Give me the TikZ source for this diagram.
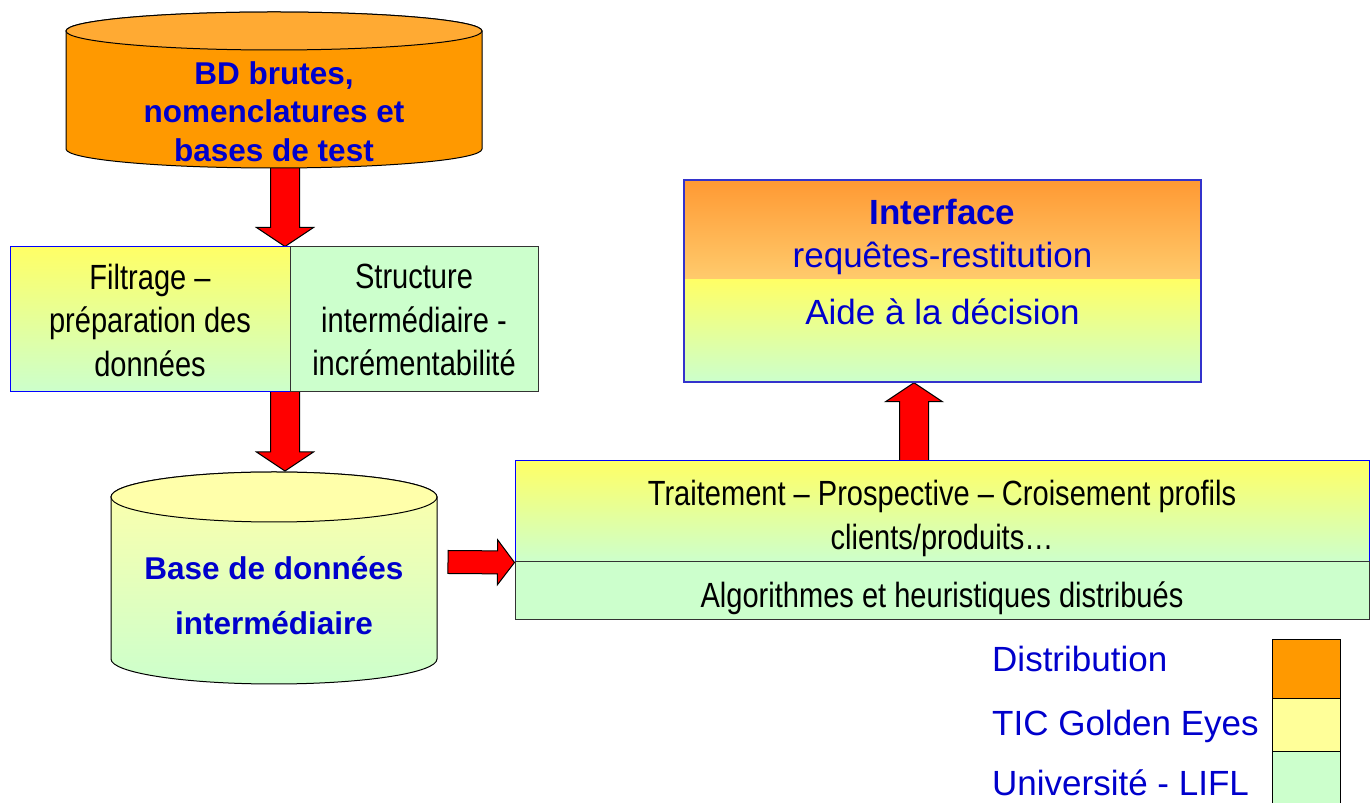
\documentclass[tikz,border=0pt]{standalone}
\usepackage{fontspec}
\setmainfont{Liberation Sans}
\newfontfamily\narrowfont[FakeStretch=0.83]{Liberation Sans}
\usetikzlibrary{calc}
\pgfdeclarelayer{background}
\pgfsetlayers{background,main}

\definecolor{distorange}{HTML}{FF9900}
\definecolor{disttop}{HTML}{FFAA33}
\definecolor{ifaceorange}{HTML}{FF9933}
\definecolor{ifacemid}{HTML}{FFE68C}
\definecolor{ifacelight}{HTML}{FFFFA8}
\definecolor{ticyellow}{HTML}{FFFF99}
\definecolor{ticdeep}{HTML}{FFFF66}
\definecolor{ticpale}{HTML}{FFFFAA}
\definecolor{liflgreen}{HTML}{CCFFCC}
\definecolor{labelblue}{HTML}{0000CC}
\definecolor{rimblue}{HTML}{0000FF}
\definecolor{frameblue}{HTML}{3333CC}
\definecolor{rimgray}{HTML}{333333}

% block arrow from #1 to #2: shaft half width #3, head half width #4, head length #5
\newcommand{\fatarrow}[5]{%
  \filldraw[fatarrowstyle] let \p1=(#1), \p2=(#2),
    \n1={atan2(\y2-\y1,\x2-\x1)}, \n2={veclen(\x2-\x1,\y2-\y1)} in
    [shift={(\p1)}, rotate=\n1]
    (0,-#3) -- ({\n2-#5},-#3) -- ({\n2-#5},-#4) -- (\n2,0)
    -- ({\n2-#5},#4) -- ({\n2-#5},#3) -- (0,#3) -- cycle;}

\begin{document}
\begin{tikzpicture}[x=1pt,y=1pt,
  fatarrowstyle/.style={fill=red, draw=black, line width=1pt, line join=miter},
  panel/.style={inner sep=0pt, line width=1pt},
  narrowtxt/.style={inner sep=0pt, text depth=0pt, align=center,
    font={\narrowfont\fontsize{35pt}{43.5pt}\selectfont}},
  bluebold/.style={inner sep=0pt, text depth=0pt, align=center, text=labelblue,
    font={\bfseries\fontsize{31.5pt}{38.5pt}\selectfont}},
  bluetxt/.style={inner sep=0pt, text depth=0pt, align=center, text=labelblue,
    font={\fontsize{35pt}{43pt}\selectfont}},
  legtxt/.style={bluetxt, anchor=west},
  legbox/.style={panel, draw=black, minimum width=68pt}]
\useasboundingbox (0,0) rectangle (1371,803);
\clip (0,0) rectangle (1371,803);

% raw source database (cylinder)
\path[draw=black, line width=1pt, fill=distorange]
  (66,772) -- (66,654) arc[start angle=180, end angle=360, x radius=208, y radius=19]
  -- (482,772) arc[start angle=0, end angle=180, x radius=208, y radius=19] -- cycle;
\path[draw=black, line width=1pt, fill=disttop] (274,772) ellipse[x radius=208, y radius=19];
\node[bluebold] (db1) at (274,691.7) {BD brutes,\\nomenclatures et\\bases de test};

% filtering and intermediate structure
\node[panel, minimum width=280pt, minimum height=145pt, top color=ticdeep,
  bottom color=liflgreen, draw=rimblue] (filt) at (150,483.5) {};
\node[panel, minimum width=248pt, minimum height=145pt, fill=liflgreen,
  draw=rimgray] (struct) at (414,483.5) {};
\node[narrowtxt] (filttxt) at (150,482.75) {Filtrage –\\préparation des\\données};
\node[narrowtxt] (structtxt) at (414,482.75) {Structure\\intermédiaire -\\incrémentabilité};

% intermediate database (cylinder)
\path[draw=black, line width=1pt, top color=ticpale, bottom color=liflgreen]
  (111,306) -- (111,144) arc[start angle=180, end angle=360, x radius=163, y radius=25]
  -- (437,306) arc[start angle=0, end angle=180, x radius=163, y radius=25] -- cycle;
\path[draw=black, line width=1pt, fill=ticpale] (274,306) ellipse[x radius=163, y radius=25];
\node[bluebold, font={\bfseries\fontsize{31.5pt}{55pt}\selectfont}] (db2) at (274,207.7)
  {Base de données\\intermédiaire};

% processing layers
\node[panel, minimum width=854pt, minimum height=101pt, top color=ticdeep,
  bottom color=liflgreen, draw=rimblue] (proc) at (942,291.5) {};
\node[panel, minimum width=854pt, minimum height=58pt, fill=liflgreen,
  draw=rimgray] (algo) at (942,212) {};
\node[narrowtxt, font={\narrowfont\fontsize{35pt}{44pt}\selectfont}] (proctxt) at (942,288.25)
  {Traitement – Prospective – Croisement profils\\clients/produits…};
\node[narrowtxt] (algotxt) at (942,208.25) {Algorithmes et heuristiques distribués};

% interface
\node[panel, draw=frameblue, line width=1.5pt, minimum width=517pt, minimum height=202pt,
  path picture={
    \shade[top color=ifaceorange, middle color=ifacemid, bottom color=ifacelight]
      (path picture bounding box.north west) rectangle ($(path picture bounding box.east)+(0,1)$);
    \shade[top color=ticdeep, bottom color=liflgreen]
      (path picture bounding box.south west) rectangle ($(path picture bounding box.east)+(0,1)$);
  }] (iface) at (942.5,522) {};
\node[bluetxt] (ifacetxt) at (942.5,541.25)
  {\textbf{Interface}\\requêtes-restitution\\[14pt]Aide à la décision};

% legend
\node[legbox, fill=distorange, minimum height=59pt] (legdist) at (1306,133.5) {};
\node[legbox, fill=ticyellow, minimum height=53pt] (legtic) at (1306,77.5) {};
\node[legbox, fill=liflgreen, minimum height=58pt] (leglifl) at (1306,22) {};
\node[legtxt] (legdisttxt) at (992,144) {Distribution};
\node[legtxt] (legtictxt) at (992,80) {TIC Golden Eyes};
\node[legtxt] (leglifltxt) at (992,20) {Université - LIFL};

% flow arrows
\coordinate (db1-foot) at (285,650);
\coordinate (db2-top) at (285,332);
\coordinate (db2-out) at (448,241);
\coordinate (proc-up) at (914,332);
\begin{pgfonlayer}{background}
  \fatarrow{db1-foot}{db1-foot |- filt.north}{14.5}{28.5}{19}
  \fatarrow{$(db1-foot |- filt.south)+(0,9)$}{db2-top}{14.5}{28.5}{19}
  \fatarrow{db2-out}{proc.south west}{11.5}{22.5}{17}
  \fatarrow{proc-up}{proc-up |- iface.south}{14.5}{28.5}{19}
\end{pgfonlayer}
\end{tikzpicture}
\end{document}
